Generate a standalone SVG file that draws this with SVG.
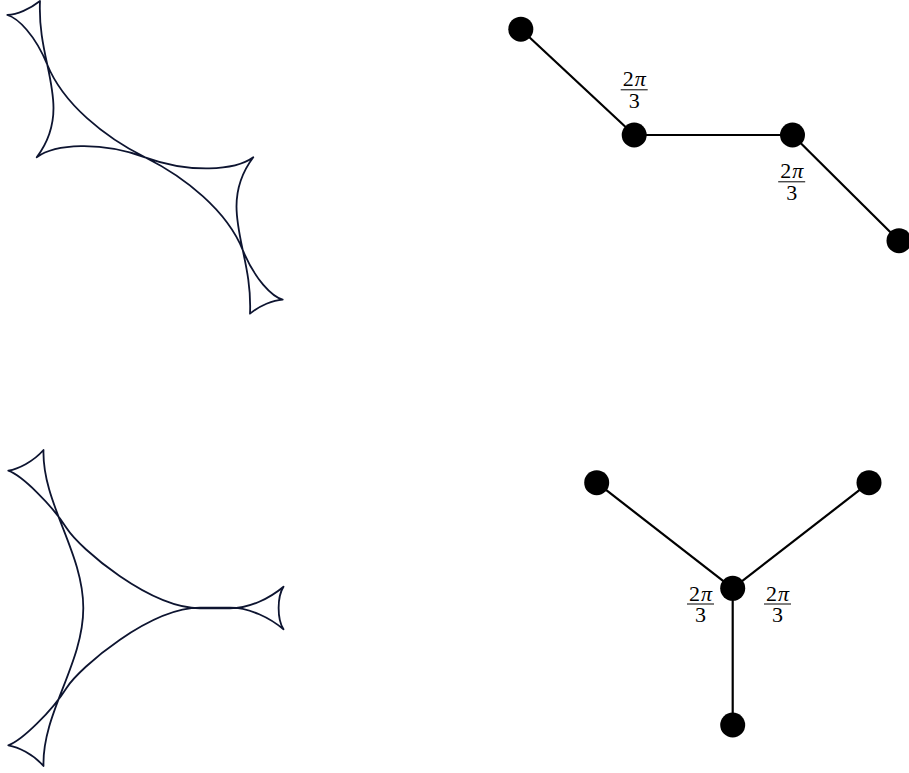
<svg xmlns="http://www.w3.org/2000/svg" width="909" height="773" viewBox="0 0 909 773">
<style>
.curve{fill:none;stroke:#0d1430;stroke-width:1.8;stroke-linejoin:round}
.edge{stroke:#000;stroke-width:2.2;fill:none}
.node{fill:#000}
.lbl{font-family:"Liberation Serif","DejaVu Serif",serif;font-size:22px;fill:#000;text-anchor:middle}
.pi{font-style:italic}
.bar{stroke:#000;stroke-width:1}
</style>
<rect width="909" height="773" fill="#fff"/>
<g id="caustic-path">
<path class="curve" d="M7.3,15 C17,14.5 30,9 40,1 C38,45 53.5,75 53.5,108 C53.5,130 46,145 36.7,157.3 C55,144 100,141 145,157.3 C190,173.6 235,170.6 253.3,157.3 C244,169.6 236.5,184.6 236.5,206.6 C236.5,239.6 252,269.6 250,313.6 C260,305.6 273,300.1 282.7,299.6 C272,296.6 255,279.6 243,250.6 C227,210.6 185,177.3 145,157.3 C105,137.3 63,104 47,64 C35,35 18,18 7.3,15 Z"/>
</g>
<g id="caustic-star">
<path class="curve" d="M8.3,470.7 C22,475.5 52,505 66.7,528.3 C80,549 150,608.3 200,608.3 L230,608.3 C250,608.3 270,598 283.5,586.7 C277,597 277,619 283.5,629.3 C270,618 250,607.7 230,607.7 L200,607.7 C150,607.7 80,667 66.7,687.7 C52,711 22,740.5 8.3,745.3 C18,747 33,754 43.5,766 C42,713 83.3,664 83.3,608 C83.3,552 42,503 43.5,450 C33,462 18,469 8.3,470.7 Z"/>
</g>
<g id="connectors">
<line class="edge" x1="520.8" y1="29.2" x2="634.2" y2="135"/>
<line class="edge" x1="634.2" y1="135" x2="792.5" y2="135"/>
<line class="edge" x1="792.5" y1="135" x2="899" y2="240.7"/>
<line class="edge" x1="596.7" y1="482.7" x2="732.7" y2="588.3"/>
<line class="edge" x1="869" y1="482.7" x2="732.7" y2="588.3"/>
<line class="edge" x1="732.7" y1="588.3" x2="732.7" y2="725"/>
</g>
<g id="p1"><circle class="node" cx="520.8" cy="29.2" r="12.5"/></g>
<g id="p2"><circle class="node" cx="634.2" cy="135" r="12.5"/></g>
<g id="p3"><circle class="node" cx="792.5" cy="135" r="12.5"/></g>
<g id="p4"><circle class="node" cx="899" cy="240.7" r="12.5"/></g>
<g id="s1"><circle class="node" cx="596.7" cy="482.7" r="12.5"/></g>
<g id="s2"><circle class="node" cx="869" cy="482.7" r="12.5"/></g>
<g id="s0"><circle class="node" cx="732.7" cy="588.3" r="12.5"/></g>
<g id="s3"><circle class="node" cx="732.7" cy="725" r="12.5"/></g>
<g id="label-p2">
<text class="lbl" x="634.2" y="86">2<tspan class="pi" dx="1">π</tspan></text>
<line class="bar" x1="620.7" y1="89.8" x2="647.7" y2="89.8"/>
<text class="lbl" x="634.2" y="107.5">3</text>
</g>
<g id="label-p3">
<text class="lbl" x="791.7" y="178">2<tspan class="pi" dx="1">π</tspan></text>
<line class="bar" x1="778.2" y1="181.8" x2="805.2" y2="181.8"/>
<text class="lbl" x="791.7" y="199.8">3</text>
</g>
<g id="label-s-left">
<text class="lbl" x="700.5" y="600.5">2<tspan class="pi" dx="1">π</tspan></text>
<line class="bar" x1="687" y1="604" x2="714" y2="604"/>
<text class="lbl" x="700.5" y="622.3">3</text>
</g>
<g id="label-s-right">
<text class="lbl" x="777.5" y="600.5">2<tspan class="pi" dx="1">π</tspan></text>
<line class="bar" x1="764" y1="604" x2="791" y2="604"/>
<text class="lbl" x="777.5" y="622.3">3</text>
</g>
</svg>
